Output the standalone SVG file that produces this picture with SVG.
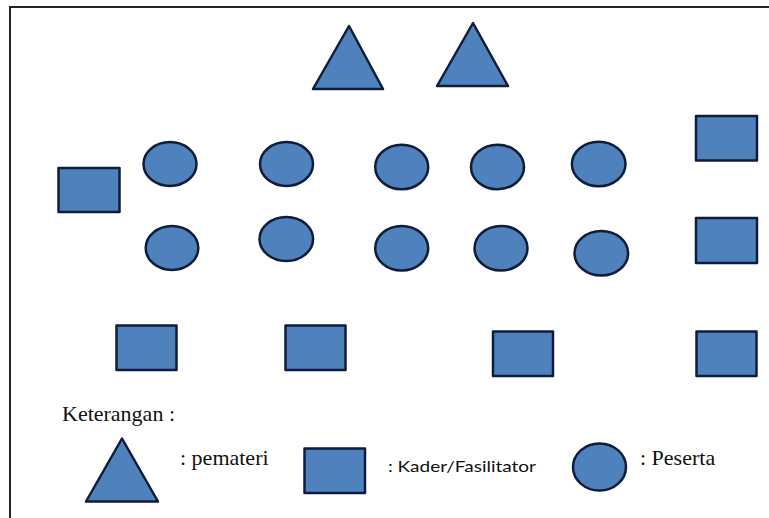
<svg xmlns="http://www.w3.org/2000/svg" width="769" height="518" viewBox="0 0 769 518">
<style>
.shape{fill:#4f81bd;stroke:#0f1d3a;stroke-width:2.5;stroke-linejoin:round}
.frame{stroke:#222;stroke-width:2;fill:none}
.serif{font-family:"Liberation Serif","Times New Roman",serif;font-size:22px;fill:#111}
.sans{font-family:Lato,"Liberation Sans",sans-serif;font-size:16px;fill:#111}
</style>
<rect x="0" y="0" width="769" height="518" fill="#fff"/>
<path class="frame" d="M10,518 V7 H769"/>
<g id="connectors"></g>
<g id="pemateri-1"><polygon class="shape" points="349,26 313,89 383,89"/></g>
<g id="pemateri-2"><polygon class="shape" points="473,23 437,86 508,86"/></g>
<g id="kader-left"><rect class="shape" x="58.5" y="168" width="61" height="44"/></g>
<g id="kader-right-1"><rect class="shape" x="696" y="116" width="61" height="44.5"/></g>
<g id="kader-right-2"><rect class="shape" x="696" y="218" width="61" height="45"/></g>
<g id="kader-bottom-1"><rect class="shape" x="116.5" y="325.5" width="60" height="44.5"/></g>
<g id="kader-bottom-2"><rect class="shape" x="285.5" y="325.5" width="60" height="44.5"/></g>
<g id="kader-bottom-3"><rect class="shape" x="493" y="331.5" width="60" height="44.5"/></g>
<g id="kader-bottom-4"><rect class="shape" x="696.5" y="331.5" width="60" height="44.5"/></g>
<g id="peserta-1"><ellipse class="shape" cx="170" cy="164" rx="26.5" ry="22"/></g>
<g id="peserta-2"><ellipse class="shape" cx="286.5" cy="164" rx="26.5" ry="22"/></g>
<g id="peserta-3"><ellipse class="shape" cx="401.7" cy="167" rx="26.5" ry="22.3"/></g>
<g id="peserta-4"><ellipse class="shape" cx="497.5" cy="167" rx="26.5" ry="22.3"/></g>
<g id="peserta-5"><ellipse class="shape" cx="598.7" cy="164" rx="26.8" ry="22.3"/></g>
<g id="peserta-6"><ellipse class="shape" cx="172" cy="248" rx="26.3" ry="22"/></g>
<g id="peserta-7"><ellipse class="shape" cx="286.3" cy="239" rx="26.8" ry="22"/></g>
<g id="peserta-8"><ellipse class="shape" cx="401.7" cy="248.2" rx="26.5" ry="22.3"/></g>
<g id="peserta-9"><ellipse class="shape" cx="501" cy="248.2" rx="26.5" ry="22.3"/></g>
<g id="peserta-10"><ellipse class="shape" cx="601.3" cy="253.3" rx="26.8" ry="22.3"/></g>
<g id="legend-title"><text class="serif" x="62" y="421">Keterangan :</text></g>
<g id="legend-pemateri">
<polygon class="shape" points="122,438.5 86,501.5 158,501.5"/>
<text class="serif" x="180" y="465">: pemateri</text>
</g>
<g id="legend-kader">
<rect class="shape" x="304.5" y="448.5" width="60.5" height="44.5"/>
<text class="sans" x="388" y="472" textLength="148" lengthAdjust="spacingAndGlyphs">: Kader/Fasilitator</text>
</g>
<g id="legend-peserta">
<ellipse class="shape" cx="599.5" cy="467" rx="26.5" ry="23.5"/>
<text class="serif" x="640" y="465">: Peserta</text>
</g>
</svg>
